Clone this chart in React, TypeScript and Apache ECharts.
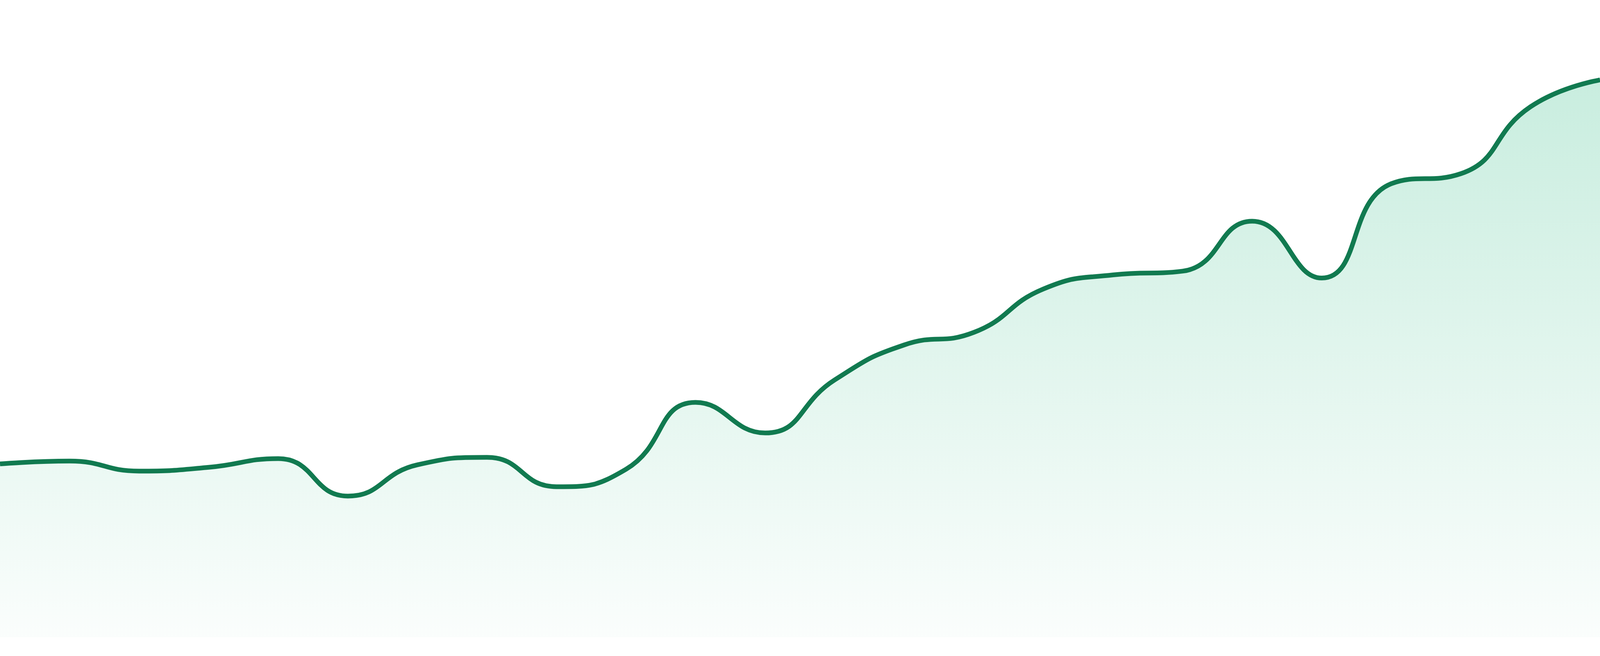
import React, { useEffect, useRef } from "react";
import * as echarts from "echarts";

const categories = [
  "W1", "W2", "W3", "W4", "W5", "W6", "W7", "W8", "W9", "W10", "W11", "W12",
  "W13", "W14", "W15", "W16", "W17", "W18", "W19", "W20", "W21", "W22", "W23", "W24",
];

const values = [
  27.75, 28.2, 26.6, 27.2, 28.6, 22.6, 27.6, 28.8, 24.1, 26.9, 37.6, 32.7,
  41.2, 46.8, 48.8, 55.75, 58.0, 58.6, 66.6, 57.5, 72.6, 74.2, 84.9, 89.2,
];

const yMin = 0;
const yMax = 100;

export default function App() {
  const ref = useRef<HTMLDivElement>(null);

  useEffect(() => {
    if (!ref.current) return;
    const chart = echarts.init(ref.current, null, { renderer: "svg" });
    chart.setOption({
      animation: false,
      backgroundColor: "#ffffff",
      grid: { left: 0, right: 0, top: 32, bottom: 48, containLabel: false },
      xAxis: {
        type: "category",
        data: categories,
        boundaryGap: false,
        show: false,
      },
      yAxis: {
        type: "value",
        min: yMin,
        max: yMax,
        show: false,
      },
      series: [
        {
          type: "line",
          data: values,
          smooth: true,
          symbol: "none",
          lineStyle: { color: "#117a50", width: 12 },
          areaStyle: {
            color: new echarts.graphic.LinearGradient(0, 0, 0, 1, [
              { offset: 0, color: "rgba(40,185,128,0.36)" },
              { offset: 1, color: "rgba(40,185,128,0.03)" },
            ]),
          },
        },
      ],
    });
    const onResize = () => chart.resize();
    window.addEventListener("resize", onResize);
    return () => {
      window.removeEventListener("resize", onResize);
      chart.dispose();
    };
  }, []);

  return (
    <div
      ref={ref}
      style={{
        position: "absolute",
        left: 0,
        top: 0,
        width: "100vw",
        height: "100vh",
        background: "#ffffff",
      }}
    />
  );
}
